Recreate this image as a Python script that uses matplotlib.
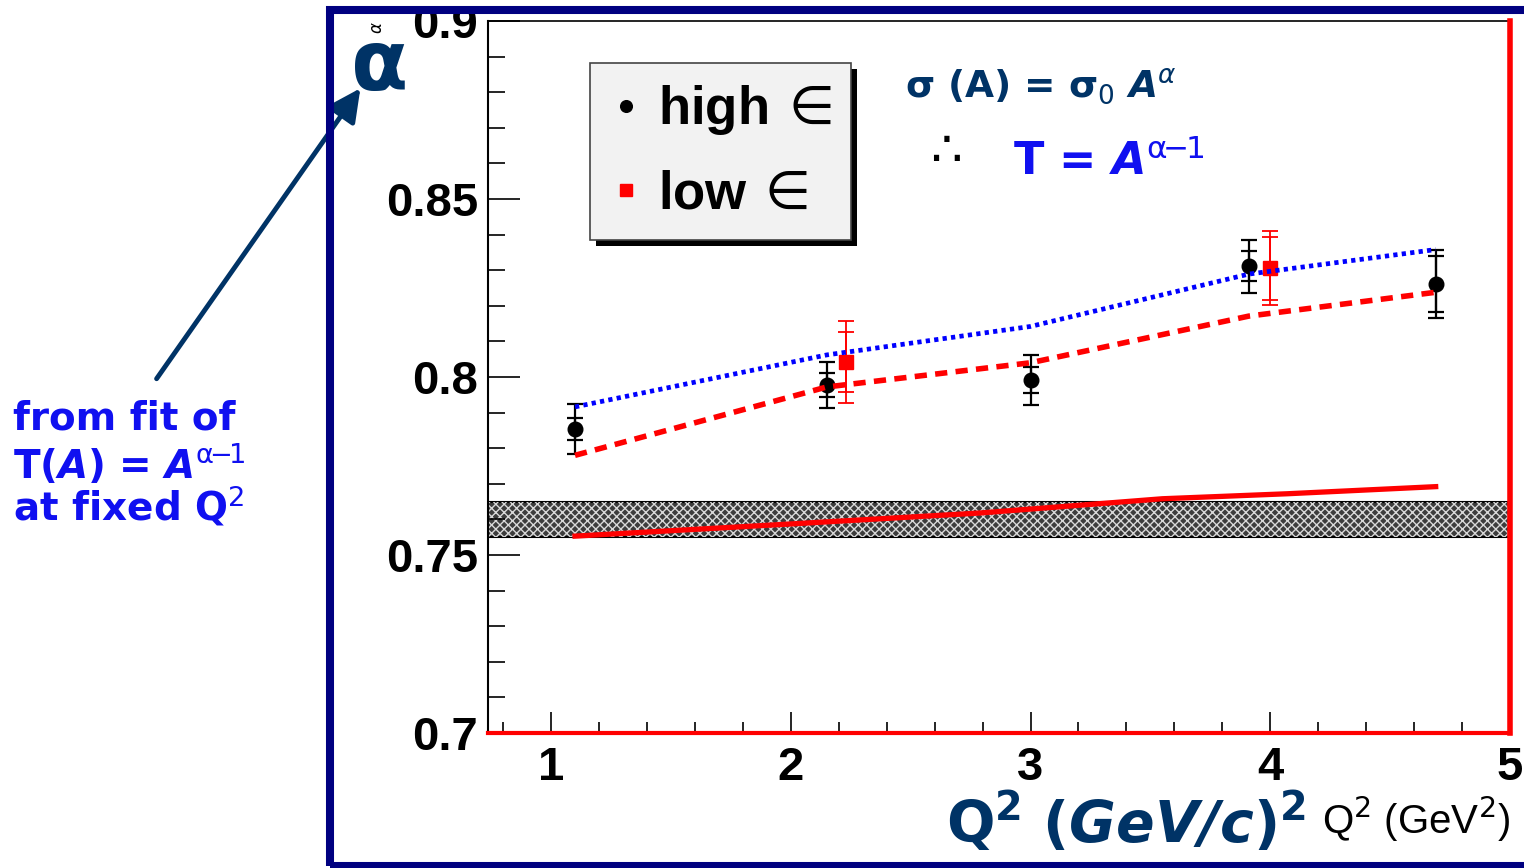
import matplotlib.pyplot as plt
from matplotlib.patches import Rectangle, FancyArrowPatch
from matplotlib.ticker import MultipleLocator, FormatStrFormatter
from matplotlib.transforms import IdentityTransform

plt.rcParams['font.family'] = ['Liberation Sans', 'DejaVu Sans']
plt.rcParams['mathtext.fontset'] = 'custom'
plt.rcParams['mathtext.rm'] = 'DejaVu Sans'
plt.rcParams['mathtext.it'] = 'DejaVu Sans:italic'
plt.rcParams['mathtext.bf'] = 'DejaVu Sans:bold'
plt.rcParams['mathtext.bfit'] = 'DejaVu Sans:italic:bold'

# high epsilon points (stat and total errors)
q2_high = [1.10, 2.15, 3.00, 3.91, 4.69]
alpha_high = [0.7854, 0.7978, 0.7992, 0.8311, 0.8261]
stat_high = [0.0032, 0.0034, 0.0036, 0.0042, 0.0078]
tot_high = [0.0071, 0.0064, 0.0070, 0.0075, 0.0095]

# low epsilon points
q2_low = [2.23, 4.00]
alpha_low = [0.8042, 0.8305]
stat_low = [0.0085, 0.0088]
tot_low = [0.0115, 0.0104]

# model curves
curve_q2 = [1.10, 2.15, 3.00, 3.91, 4.69]
blue_dotted = [0.7916, 0.8062, 0.8142, 0.8289, 0.8358]
red_dashed = [0.7780, 0.7972, 0.8040, 0.8171, 0.8238]

solid_q2 = [1.10, 2.02, 2.79, 3.55, 4.07, 4.69]
red_solid = [0.7553, 0.7588, 0.7618, 0.7658, 0.7672, 0.7692]

band_lo, band_hi = 0.7550, 0.7650

W, H = 1524, 868
navy = '#003366'
blue = '#1010f0'
sup = '\\alpha\\!\\!-\\!\\!1'


def px(x, y):
    return x / W, 1 - y / H


fig = plt.figure(figsize=(W / 100, H / 100), dpi=100)
ax = fig.add_axes([488 / W, 135 / H, 1022 / W, 712 / H])

# shaded band
ax.axhspan(band_lo, band_hi, facecolor='#3c3c3c', edgecolor='black', lw=1.5, zorder=1)
ax.axhspan(band_lo, band_hi, facecolor='none', edgecolor='#d8d8d8', hatch='xxxx', lw=0, zorder=1.1)

ax.plot(solid_q2, red_solid, color='red', lw=3.8, zorder=4)
ax.plot(curve_q2, blue_dotted, color='blue', lw=3.4, ls=(0, (0.9, 0.9)), zorder=4)
ax.plot(curve_q2, red_dashed, color='red', lw=4, ls=(0, (2.2, 1.5)), zorder=4)

ax.errorbar(q2_high, alpha_high, yerr=tot_high, fmt='none', ecolor='black',
            elinewidth=1.6, capsize=6, capthick=1.6, zorder=3)
ax.errorbar(q2_high, alpha_high, yerr=stat_high, fmt='none', ecolor='black',
            elinewidth=1.6, capsize=6, capthick=1.6, zorder=3)
ax.errorbar(q2_low, alpha_low, yerr=tot_low, fmt='none', ecolor='red',
            elinewidth=1.3, capsize=6, capthick=1.3, zorder=3)
ax.errorbar(q2_low, alpha_low, yerr=stat_low, fmt='none', ecolor='red',
            elinewidth=1.3, capsize=6, capthick=1.3, zorder=3)
h_high, = ax.plot(q2_high, alpha_high, 'o', color='black', ms=10.5, zorder=3.5)
h_low, = ax.plot(q2_low, alpha_low, 's', color='red', ms=10.5, zorder=3.5)

# red frame lines
ax.axhline(0.7, color='red', lw=3, clip_on=False, zorder=2.6)
ax.axvline(5.0, color='red', lw=4, clip_on=False, zorder=2.6)

ax.set_xlim(0.737, 5.0)
ax.set_ylim(0.7, 0.9)
ax.xaxis.set_major_locator(MultipleLocator(1))
ax.xaxis.set_minor_locator(MultipleLocator(0.2))
ax.yaxis.set_major_locator(MultipleLocator(0.05))
ax.yaxis.set_minor_locator(MultipleLocator(0.01))
ax.yaxis.set_major_formatter(FormatStrFormatter('%g'))
ax.tick_params(axis='y', which='major', direction='in', length=23, width=1.2, pad=7,
               labelsize=34, right=False)
ax.tick_params(axis='y', which='minor', direction='in', length=12, width=1.2, right=False)
ax.tick_params(axis='x', which='major', direction='in', length=15, width=1.2, pad=9,
               labelsize=34, top=False)
ax.tick_params(axis='x', which='minor', direction='in', length=8, width=1.2, top=False)
for lab in ax.get_xticklabels() + ax.get_yticklabels():
    lab.set_fontweight('bold')
for s in ['left', 'bottom']:
    ax.spines[s].set_linewidth(1.5)
ax.spines['top'].set_linewidth(1.2)
ax.spines['right'].set_visible(False)

leg = ax.legend(handles=[h_high, h_low], labels=['high${\\,\\in}$', 'low${\\,\\in}$'],
                loc='upper left', bbox_to_anchor=px(590, 63), bbox_transform=fig.transFigure,
                prop={'family': 'Liberation Sans', 'weight': 'bold', 'size': 38},
                fancybox=False, facecolor='#f2f2f2', edgecolor='#444444', framealpha=1,
                borderpad=0.38, handlelength=0.6, handletextpad=0.3, labelspacing=0.62,
                borderaxespad=0, markerscale=0.8)
leg.get_frame().set_linewidth(1.2)
leg.set_zorder(10)

# formulas and annotations
fig.text(*px(905, 97), 'σ (A) = σ$_0$ $\\mathbfit{A}^{\\alpha}$', color=navy,
         fontsize=27, fontweight='bold', family='DejaVu Sans', va='baseline')
fig.text(*px(946, 152), '∴', color='black', fontsize=36, family='DejaVu Sans',
         ha='center', va='center')
fig.text(*px(1013, 175), 'T = $\\mathbfit{A}^{\\mathrm{' + sup + '}}$', color=blue,
         fontsize=32, fontweight='bold', family='DejaVu Sans', va='baseline')

fig.text(*px(13, 430), 'from fit of', color=blue, fontsize=28, fontweight='bold',
         family='DejaVu Sans', va='baseline')
fig.text(*px(13, 478), 'T($\\mathbfit{A}$) = $\\mathbfit{A}^{\\mathrm{' + sup + '}}$', color=blue,
         fontsize=28, fontweight='bold', family='DejaVu Sans', va='baseline')
fig.text(*px(13, 520), 'at fixed Q$^2$', color=blue, fontsize=28, fontweight='bold',
         family='DejaVu Sans', va='baseline')

fig.text(*px(378, 68), '$\\mathbf{\\alpha}$', color=navy, fontsize=60,
         ha='center', va='center')
fig.text(*px(378, 28), '$\\alpha$', color='black', fontsize=12,
         ha='center', va='center', rotation=90)

fig.text(*px(946, 843), '$\\mathbf{Q}^{\\mathbf{2}}\\ \\mathbf{(}\\mathbfit{GeV/c}\\mathbf{)}^{\\mathbf{2}}$',
         color=navy, fontsize=41, va='baseline')
fig.text(*px(1510, 834), 'Q$^2$ (GeV$^2$)', color='black', fontsize=29,
         family='Liberation Sans', ha='right', va='baseline')

arrow = FancyArrowPatch(px(155, 381), px(362, 86), transform=fig.transFigure,
                        arrowstyle='-|>,head_length=0.9,head_width=0.45', mutation_scale=22,
                        lw=3.5, color=navy)
fig.add_artist(arrow)

frame = Rectangle(px(330, 866), 1300 / W, 856 / H, transform=fig.transFigure, fill=False,
                  edgecolor='#000080', lw=5.8, clip_on=False)
fig.add_artist(frame)

# legend shadow
fig.canvas.draw()
bb = leg.get_window_extent()
shadow = Rectangle((bb.x0 + 6, bb.y0 - 6), bb.width, bb.height, transform=IdentityTransform(),
                   facecolor='black', edgecolor='none', zorder=9, clip_on=False)
ax.add_artist(shadow)

fig.savefig('out.png', dpi=100)
